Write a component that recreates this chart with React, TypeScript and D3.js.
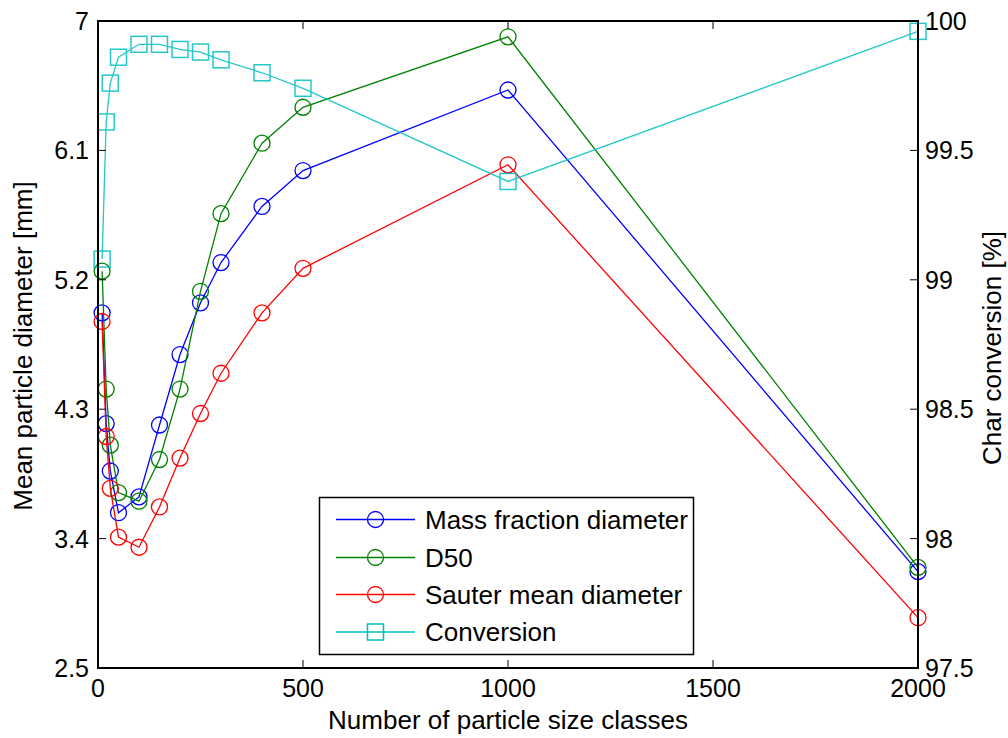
import React from "react";
import * as d3 from "d3";

// number of particle size classes
const classes = [10, 20, 30, 50, 100, 150, 200, 250, 300, 400, 500, 1000, 2000];
// mean particle diameters [mm]
const massFraction = [4.97, 4.2, 3.87, 3.58, 3.69, 4.19, 4.68, 5.04, 5.32, 5.71, 5.96, 6.52, 3.17];
const d50 = [5.26, 4.44, 4.05, 3.72, 3.66, 3.95, 4.44, 5.12, 5.66, 6.15, 6.4, 6.89, 3.2];
const sauter = [4.91, 4.11, 3.75, 3.41, 3.34, 3.62, 3.96, 4.27, 4.55, 4.97, 5.28, 6.0, 2.85];
// char conversion [%]
const conversion = [99.08, 99.61, 99.76, 99.86, 99.91, 99.91, 99.89, 99.88, 99.85, 99.8, 99.74, 99.38, 99.96];

const xTicks = [0, 500, 1000, 1500, 2000];
const leftTicks = [2.5, 3.4, 4.3, 5.2, 6.1, 7];
const rightTicks = [97.5, 98, 98.5, 99, 99.5, 100];

const W = 1008;
const H = 738;
const m = { left: 98, right: 918, top: 21, bottom: 668 };
const font = "'Liberation Sans', Arial, Helvetica, sans-serif";
const fs = 25; // tick labels
const fsL = 26; // axis labels and legend

const App = () => {
  const x = d3.scaleLinear().domain([0, 2000]).range([m.left, m.right]);
  const yL = d3.scaleLinear().domain([2.5, 7]).range([m.bottom, m.top]);
  const yR = d3.scaleLinear().domain([97.5, 100]).range([m.bottom, m.top]);

  const leftSeries = [
    { name: "Mass fraction diameter", values: massFraction, color: "#0000ff" },
    { name: "D50", values: d50, color: "#008000" },
    { name: "Sauter mean diameter", values: sauter, color: "#ff0000" },
  ];
  const cyan = "#00bfbf";

  const lineL = (vals: number[]) =>
    d3.line<number>().x((_, i) => x(classes[i])).y((d) => yL(d))(vals) || "";
  const lineR = d3
    .line<number>()
    .x((_, i) => x(classes[i]))
    .y((d) => yR(d))(conversion) || "";

  const legendY = [519.5, 557.5, 594.5, 632];
  const legendItems = [
    ...leftSeries.map((s) => ({ name: s.name, color: s.color, square: false })),
    { name: "Conversion", color: cyan, square: true },
  ];

  return (
    <div style={{ position: "absolute", left: 0, top: 0 }}>
      <svg width={W} height={H} style={{ display: "block", background: "#fff" }} fontFamily={font}>
        {/* series on left axis */}
        {leftSeries.map((s) => (
          <g key={s.name}>
            <path d={lineL(s.values)} fill="none" stroke={s.color} strokeWidth={1.3} />
            {s.values.map((v, i) => (
              <circle key={i} cx={x(classes[i])} cy={yL(v)} r={8} fill="none" stroke={s.color} strokeWidth={1.3} />
            ))}
          </g>
        ))}
        {/* conversion on right axis */}
        <g opacity={0.85}>
          <path d={lineR} fill="none" stroke={cyan} strokeWidth={1.3} />
          {conversion.map((v, i) => (
            <rect key={i} x={x(classes[i]) - 8} y={yR(v) - 8} width={16} height={16} fill="none" stroke={cyan} strokeWidth={1.5} />
          ))}
        </g>

        {/* axes box */}
        <rect x={m.left} y={m.top} width={m.right - m.left} height={m.bottom - m.top} fill="none" stroke="#000" strokeWidth={2} />
        {xTicks.map((t) => (
          <g key={t}>
            <line x1={x(t)} x2={x(t)} y1={m.bottom} y2={m.bottom - 8} stroke="#000" strokeWidth={1} />
            <line x1={x(t)} x2={x(t)} y1={m.top} y2={m.top + 8} stroke="#000" strokeWidth={1} />
            <text x={x(t)} y={697} textAnchor="middle" fontSize={fs}>{t}</text>
          </g>
        ))}
        {leftTicks.map((t) => (
          <g key={t}>
            <line x1={m.left} x2={m.left + 8} y1={yL(t)} y2={yL(t)} stroke="#000" strokeWidth={1} />
            <text x={89} y={yL(t) + 9} textAnchor="end" fontSize={fs}>{t}</text>
          </g>
        ))}
        {rightTicks.map((t) => (
          <g key={t}>
            <line x1={m.right} x2={m.right - 8} y1={yR(t)} y2={yR(t)} stroke="#000" strokeWidth={1} />
            <text x={925} y={yR(t) + 9} textAnchor="start" fontSize={fs}>{t}</text>
          </g>
        ))}

        {/* axis labels */}
        <text x={(m.left + m.right) / 2} y={729} textAnchor="middle" fontSize={fsL}>
          Number of particle size classes
        </text>
        <text transform="translate(32,346) rotate(-90)" textAnchor="middle" fontSize={fsL}>
          Mean particle diameter [mm]
        </text>
        <text transform="translate(1001,348) rotate(-90)" textAnchor="middle" fontSize={fsL}>
          Char conversion [%]
        </text>

        {/* legend */}
        <g>
          <rect x={319.5} y={497.5} width={374} height={157} fill="#fff" stroke="#000" strokeWidth={1.5} />
          {legendItems.map((it, i) => (
            <g key={it.name}>
              <line x1={336} x2={415} y1={legendY[i]} y2={legendY[i]} stroke={it.color} strokeWidth={1.3} />
              {it.square ? (
                <rect x={367.5} y={legendY[i] - 8} width={16} height={16} fill="none" stroke={it.color} strokeWidth={1.5} />
              ) : (
                <circle cx={375.5} cy={legendY[i]} r={8} fill="none" stroke={it.color} strokeWidth={1.3} />
              )}
              <text x={425} y={legendY[i] + 9} fontSize={fsL}>{it.name}</text>
            </g>
          ))}
        </g>
      </svg>
    </div>
  );
};

export default App;
